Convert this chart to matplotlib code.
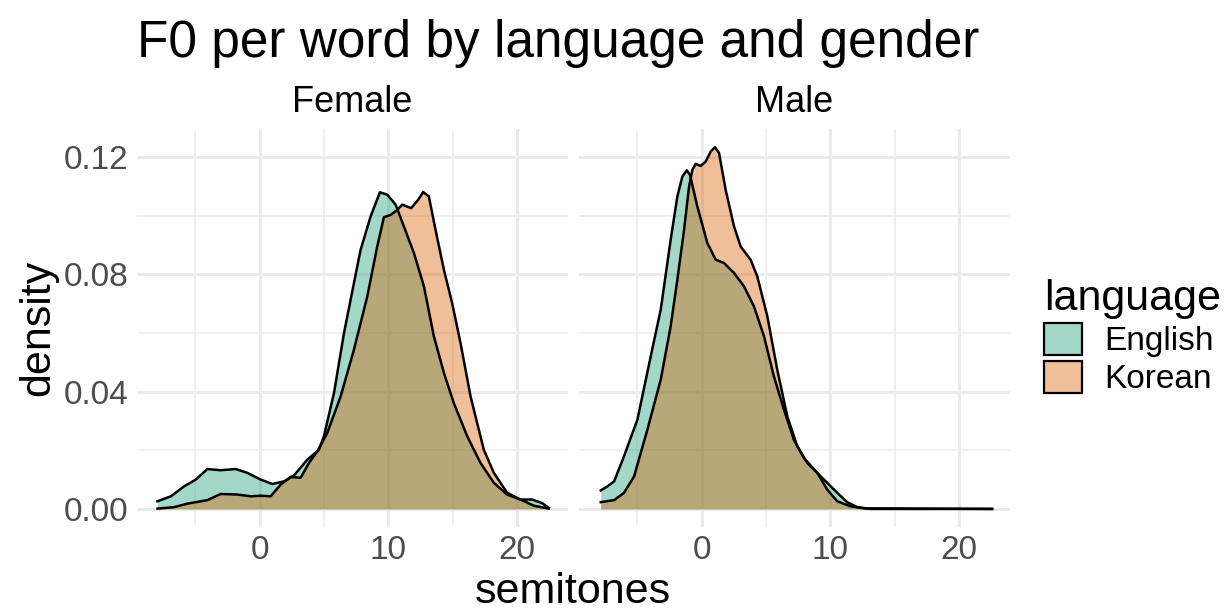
import numpy as np
import matplotlib; matplotlib.use("Agg")
import matplotlib.pyplot as plt
from matplotlib.patches import Patch

# valores (x en semitonos, y densidad)
fem_en_x = [-7.94, -6.9, -5.87, -4.97, -4.06, -3.03, -1.86, -0.96, 0.08, 0.98, 1.89, 2.66, 3.70, 4.61,
            4.99, 5.77, 6.55, 7.32, 7.84, 8.62, 9.34, 9.91, 10.56, 11.20, 11.98, 12.76, 13.53, 14.31,
            15.08, 16.12, 17.15, 18.19, 19.22, 20.26, 21.16, 21.94, 22.46]
fem_en_y = [0.0026, 0.0043, 0.0077, 0.0100, 0.0136, 0.0132, 0.0136, 0.0123, 0.0100, 0.0085, 0.0094,
            0.0114, 0.0168, 0.0202, 0.0248, 0.0395, 0.0600, 0.0770, 0.0884, 0.0998, 0.1080, 0.1072,
            0.1038, 0.0964, 0.0873, 0.0759, 0.0589, 0.0464, 0.0361, 0.0248, 0.0157, 0.0089, 0.0049,
            0.0032, 0.0032, 0.0020, 0.0003]
fem_ko_x = [-7.94, -6.65, -5.61, -4.06, -3.03, -1.73, -0.70, 0.08, 0.85, 1.63, 2.41, 3.18, 3.83, 4.48,
            5.25, 6.29, 7.32, 8.36, 9.13, 9.65, 10.17, 10.69, 11.07, 11.77, 12.32, 12.70, 13.14, 13.66,
            14.31, 14.95, 15.60, 16.38, 17.41, 18.19, 19.22, 20.26, 21.29, 22.46]
fem_ko_y = [0.0001, 0.0006, 0.0018, 0.0030, 0.0051, 0.0049, 0.0043, 0.0045, 0.0043, 0.0083, 0.0109,
            0.0106, 0.0157, 0.0197, 0.0259, 0.0384, 0.0543, 0.0725, 0.0895, 0.0995, 0.1003, 0.1020,
            0.1038, 0.1026, 0.1055, 0.1081, 0.1066, 0.0952, 0.0816, 0.0702, 0.0566, 0.0384, 0.0202,
            0.0123, 0.0055, 0.0032, 0.0011, 0.0001]
male_en_x = [-7.84, -7.32, -6.80, -6.03, -4.99, -3.96, -3.18, -2.41, -1.89, -1.50, -1.16, -0.91, -0.34,
             0.44, 1.09, 1.73, 2.51, 3.29, 4.06, 4.84, 5.61, 6.39, 7.16, 7.94, 8.98, 9.75, 10.53,
             11.30, 12.08, 13.12, 22.56]
male_en_y = [0.0063, 0.0077, 0.0094, 0.0180, 0.0305, 0.0520, 0.0680, 0.0918, 0.1066, 0.1134, 0.1155,
             0.1140, 0.1032, 0.0907, 0.0850, 0.0839, 0.0805, 0.0759, 0.0691, 0.0589, 0.0452, 0.0339,
             0.0236, 0.0174, 0.0123, 0.0089, 0.0055, 0.0023, 0.0006, 0.0, 0.0]
male_ko_x = [-7.84, -6.80, -6.03, -5.25, -4.22, -3.18, -2.41, -1.89, -1.37, -0.98, -0.72, -0.47, -0.08,
             0.31, 0.70, 1.03, 1.35, 1.86, 2.51, 3.03, 3.80, 4.32, 5.10, 5.87, 6.65, 7.42, 8.20, 8.98,
             9.75, 10.53, 11.56, 12.60, 22.56]
male_ko_y = [0.0023, 0.0030, 0.0055, 0.0111, 0.0270, 0.0441, 0.0623, 0.0782, 0.0952, 0.1100, 0.1157,
             0.1177, 0.1170, 0.1185, 0.1219, 0.1234, 0.1214, 0.1089, 0.0964, 0.0895, 0.0850, 0.0793,
             0.0657, 0.0475, 0.0316, 0.0214, 0.0157, 0.0123, 0.0066, 0.0026, 0.0009, 0.0002, 0.0]

panels = ["Female", "Male"]
languages = ["English", "Korean"]
COL = {"English": "#1b9e77", "Korean": "#d95f02"}
data = {
    "Female": {"English": (fem_en_x, fem_en_y), "Korean": (fem_ko_x, fem_ko_y)},
    "Male": {"English": (male_en_x, male_en_y), "Korean": (male_ko_x, male_ko_y)},
}

plt.rcParams.update({"font.family": ["Liberation Sans", "DejaVu Sans"]})
W, H = 1225, 608
fig = plt.figure(figsize=(W / 100, H / 100), dpi=100)

def px_axes(x0, y0, x1, y1):
    return fig.add_axes([x0 / W, 1 - y1 / H, (x1 - x0) / W, (y1 - y0) / H])

GRID = "#ebebeb"
lefts = [137, 579]
for i, (p, l) in enumerate(zip(panels, lefts)):
    ax = px_axes(l, 129, l + 431, 527)
    ax.set_xlim(-9.53, 23.95)
    ax.set_ylim(-0.00617, 0.1296)
    for s in ax.spines.values():
        s.set_visible(False)
    ax.set_xticks([0, 10, 20])
    ax.set_xticks([-5, 5, 15], minor=True)
    ax.set_yticks([0, 0.04, 0.08, 0.12])
    ax.set_yticks([0.02, 0.06, 0.10], minor=True)
    ax.grid(True, which="major", color=GRID, lw=2.2)
    ax.grid(True, which="minor", color=GRID, lw=1.1)
    ax.set_axisbelow(True)
    ax.tick_params(which="both", length=0, labelsize=24, labelcolor="#4d4d4d", pad=6)
    if i == 0:
        ax.set_yticklabels(["0.00", "0.04", "0.08", "0.12"])
    else:
        ax.set_yticklabels([])
    for lang in languages:
        xs, ys = data[p][lang]
        ax.fill_between(xs, ys, 0, color=COL[lang], alpha=0.4, lw=0)
        ax.plot(xs, ys, color="black", lw=1.8, solid_joinstyle="round")
    ax.set_title(p, fontsize=26, pad=12)

fig.text(137 / W, 1 - 43 / H, "F0 per word by language and gender", fontsize=37, va="center", ha="left")
fig.text(573 / W, 1 - 592 / H, "semitones", fontsize=31, ha="center", va="center")
fig.text(38 / W, 1 - 328 / H, "density", fontsize=31, ha="center", va="center", rotation=90)

handles = [Patch(facecolor=matplotlib.colors.to_rgba(COL[g], 0.4), edgecolor="black", lw=1.6) for g in languages]
leg = fig.legend(handles, languages, title="language", loc="center left",
                 bbox_to_anchor=(1044 / W, 1 - 337 / H), frameon=False, fontsize=24,
                 title_fontsize=31, handlelength=1.15, handleheight=1.1, handletextpad=0.65,
                 labelspacing=0.12, borderaxespad=0, borderpad=0)
leg._legend_box.align = "left"

fig.savefig("out.png", dpi=100)
